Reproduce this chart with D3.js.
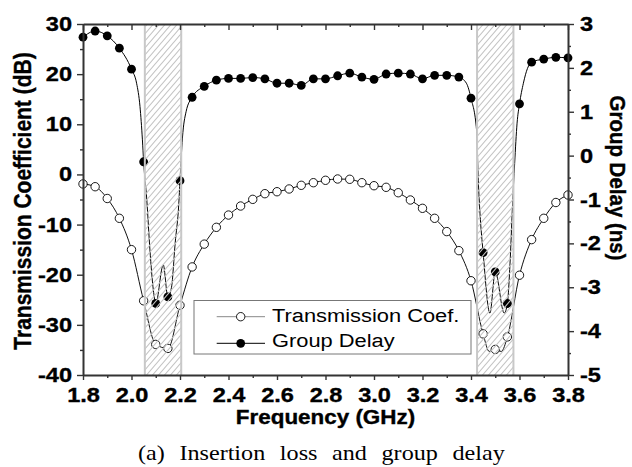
<!DOCTYPE html>
<html><head><meta charset="utf-8">
<script src="https://cdn.jsdelivr.net/npm/d3@7"></script>
<style>body{margin:0;background:#fff}svg{display:block}</style>
</head><body>
<svg id="c" width="632" height="467"></svg>
<script>
// ---------- data ----------
const freq = [1.80,1.85,1.90,1.95,2.00,2.05,2.10,2.15,2.20,2.25,2.30,2.35,2.40,2.45,2.50,2.55,2.60,2.65,2.70,2.75,
              2.80,2.85,2.90,2.95,3.00,3.05,3.10,3.15,3.20,3.25,3.30,3.35,3.40,3.45,3.50,3.55,3.60,3.65,3.70,3.75,3.80];
const transCoef = [-1.9,-2.45,-4.8,-8.75,-15.0,-25.2,-33.9,-34.7,-26.1,-18.45,-13.9,-10.55,-8.1,-6.3,-4.97,-3.84,-3.45,-2.9,-2.17,-1.65,
                   -1.17,-0.91,-0.97,-1.65,-2.25,-2.57,-3.65,-5.1,-6.76,-8.75,-11.4,-15.2,-21.2,-31.8,-34.9,-32.4,-20.1,-13.0,-8.75,-5.6,-4.1];
const groupDelay = [2.70,2.84,2.73,2.45,1.97,-0.14,-3.37,-3.22,-0.57,1.33,1.58,1.72,1.76,1.76,1.78,1.75,1.65,1.65,1.60,1.75,
                    1.75,1.82,1.88,1.79,1.74,1.86,1.88,1.86,1.75,1.83,1.83,1.79,1.31,-2.21,-2.65,-3.37,1.18,2.13,2.20,2.24,2.23];
// extra points of the measured traces (between markers)
const transTraceF = [3.475,3.525];
const transTraceV = [-35.3,-35.3];
const gdTraceF = [2.021,2.035,2.045,2.063,2.076,2.09,2.131,2.165,2.18,2.195,2.21,2.225,
                  3.381,3.423,3.43,3.437,3.478,3.537,3.561,3.571,3.58,3.59,3.616,3.633];
const gdTraceV = [1.65,1.12,0.36,-1.0,-2.15,-3.06,-2.49,-3.0,-2.0,-1.1,0.4,1.0,
                  1.65,0.58,-0.56,-1.31,-3.59,-3.59,-2.45,-1.16,-0.18,0.74,1.65,1.99];
const bands = [[2.055,2.205],[3.425,3.575]];
const xTicks = [1.8,2.0,2.2,2.4,2.6,2.8,3.0,3.2,3.4,3.6,3.8];
const xMinor = [1.9,2.1,2.3,2.5,2.7,2.9,3.1,3.3,3.5,3.7];
const yLTicks = [-40,-30,-20,-10,0,10,20,30];
const yLMinor = [-35,-25,-15,-5,5,15,25];
const yRTicks = [-5,-4,-3,-2,-1,0,1,2,3];
const yRMinor = [-4.5,-3.5,-2.5,-1.5,-0.5,0.5,1.5,2.5];
const legendLabels = ["Transmission Coef.","Group Delay"];

// ---------- layout ----------
const SX = 1.15;
const L = 83, R = 568, T = 24, B = 375;
const x = d3.scaleLinear([1.8,3.8],[L,R]);
const yL = d3.scaleLinear([-40,30],[B,T]);
const yR = d3.scaleLinear([-5,3],[B,T]);
const sans = "'Liberation Sans', Arial, sans-serif";
const svg = d3.select('#c');

const defs = svg.append('defs');
const pat = defs.append('pattern').attr('id','hatch').attr('patternUnits','userSpaceOnUse')
  .attr('width',6).attr('height',7);
pat.append('path').attr('d','M-0.6,7.7L6.6,-0.7M5.2,8.0L6.8,6.1M-0.8,0.9L0.8,-0.9')
  .attr('stroke','#c4c4c4').attr('stroke-width',1.1).attr('fill','none');

function merge(fA, vA, fB, vB){
  const pts = fA.map((f,i)=>[f,vA[i]]).concat(fB.map((f,i)=>[f,vB[i]]));
  return pts.sort((a,b)=>a[0]-b[0]);
}
const transTrace = merge(freq, transCoef, transTraceF, transTraceV);
const gdTrace = merge(freq, groupDelay, gdTraceF, gdTraceV);

// traces
svg.append('path').datum(transTrace)
  .attr('d', d3.line().x(d=>x(d[0])).y(d=>yL(d[1])).curve(d3.curveMonotoneX))
  .attr('fill','none').attr('stroke','#111').attr('stroke-width',1);
svg.append('path').datum(gdTrace)
  .attr('d', d3.line().x(d=>x(d[0])).y(d=>yR(d[1])).curve(d3.curveMonotoneX))
  .attr('fill','none').attr('stroke','#000').attr('stroke-width',1);

// markers
svg.append('g').selectAll('circle').data(freq).join('circle')
  .attr('cx',(d)=>x(d)).attr('cy',(d,i)=>yL(transCoef[i])).attr('r',4.2)
  .attr('fill','#fff').attr('stroke','#000').attr('stroke-width',0.9);
svg.append('g').selectAll('circle').data(freq).join('circle')
  .attr('cx',(d)=>x(d)).attr('cy',(d,i)=>yR(groupDelay[i])).attr('r',4.4)
  .attr('fill','#000');

// hatched bands (on top of traces)
const bg = svg.append('g');
bg.selectAll('rect').data(bands).join('rect')
  .attr('x',d=>x(d[0])).attr('y',T).attr('width',d=>x(d[1])-x(d[0])).attr('height',B-T)
  .attr('fill','url(#hatch)');
bands.forEach(b=>{
  b.forEach(f=>{
    bg.append('line').attr('x1',x(f)).attr('x2',x(f)).attr('y1',T).attr('y2',B)
      .attr('stroke','#c8c8c8').attr('stroke-width',2);
  });
});

// ---------- axes ----------
function styleAxis(g){
  g.select('.domain').attr('stroke','#333').attr('stroke-width',2);
  g.selectAll('.tick line').attr('stroke','#333').attr('stroke-width',1.4);
  g.attr('font-family',sans).attr('font-size',20.5).attr('font-weight','bold');
  g.selectAll('text').attr('fill','#000').attr('stroke','#000').attr('stroke-width',0.35);
}
const fmtInt = d => String(d);
// bottom
const gB = svg.append('g').attr('transform',`translate(0,${B})`)
  .call(d3.axisBottom(x).tickValues(xTicks).tickSize(5).tickSizeOuter(0).tickPadding(7).tickFormat(d=>d.toFixed(1)));
styleAxis(gB);
gB.selectAll('text').attr('transform',`scale(${SX},1)`);
const gBm = svg.append('g').attr('transform',`translate(0,${B})`)
  .call(d3.axisBottom(x).tickValues(xMinor).tickSize(3).tickSizeOuter(0).tickFormat(''));
styleAxis(gBm); gBm.select('.domain').remove();
// top (ticks inward)
const gT = svg.append('g').attr('transform',`translate(0,${T})`)
  .call(d3.axisBottom(x).tickValues(xTicks).tickSize(6).tickSizeOuter(0).tickFormat(''));
styleAxis(gT);
const gTm = svg.append('g').attr('transform',`translate(0,${T})`)
  .call(d3.axisBottom(x).tickValues(xMinor).tickSize(3).tickSizeOuter(0).tickFormat(''));
styleAxis(gTm); gTm.select('.domain').remove();
// left
const gL = svg.append('g').attr('transform',`translate(${L},0)`)
  .call(d3.axisLeft(yL).tickValues(yLTicks).tickSize(6).tickSizeOuter(0).tickFormat(fmtInt));
styleAxis(gL);
gL.selectAll('text').attr('x',-11/SX).attr('transform',`scale(${SX},1)`);
const gLm = svg.append('g').attr('transform',`translate(${L},0)`)
  .call(d3.axisLeft(yL).tickValues(yLMinor).tickSize(3).tickSizeOuter(0).tickFormat(''));
styleAxis(gLm); gLm.select('.domain').remove();
// right
const gR = svg.append('g').attr('transform',`translate(${R},0)`)
  .call(d3.axisRight(yR).tickValues(yRTicks).tickSize(6).tickSizeOuter(0).tickFormat(fmtInt));
styleAxis(gR);
gR.selectAll('text').attr('x',12/SX).attr('transform',`scale(${SX},1)`);
const gRm = svg.append('g').attr('transform',`translate(${R},0)`)
  .call(d3.axisRight(yR).tickValues(yRMinor).tickSize(3).tickSizeOuter(0).tickFormat(''));
styleAxis(gRm); gRm.select('.domain').remove();

// axis titles
function boldTitle(sel){
  return sel.attr('text-anchor','middle').attr('font-family',sans).attr('font-weight','bold')
    .attr('stroke','#000').attr('stroke-width',0.35);
}
boldTitle(svg.append('text').text('Frequency (GHz)')
  .attr('transform',`translate(${(L+R)/2},424) scale(${SX},1)`).attr('font-size',19.5));
boldTitle(svg.append('text').text('Transmission Coefficient (dB)')
  .attr('transform',`translate(31,201) scale(${SX},1) rotate(-90)`).attr('font-size',21));
boldTitle(svg.append('text').text('Group Delay (ns)')
  .attr('transform',`translate(610,178) scale(1.12,1) rotate(90)`).attr('font-size',20.5));

// caption
svg.append('text').text('(a) Insertion loss and group delay')
  .attr('transform',`translate(138,460) scale(${SX},1)`)
  .attr('font-family',"'Liberation Serif','Times New Roman',serif").attr('font-size',21)
  .attr('word-spacing',7.5);

// ---------- legend ----------
const lg = svg.append('g');
lg.append('rect').attr('x',194).attr('y',300.5).attr('width',277).attr('height',53.5)
  .attr('fill','#fff').attr('stroke','#777').attr('stroke-width',1);
const rows = [316.7, 343.3];
legendLabels.forEach((lab,i)=>{
  const yy = rows[i];
  lg.append('line').attr('x1',216.7).attr('x2',265).attr('y1',yy).attr('y2',yy)
    .attr('stroke', i===0 ? '#888' : '#000').attr('stroke-width',1);
  const c = lg.append('circle').attr('cx',240.7).attr('cy',yy);
  if(i===0) c.attr('r',4.2).attr('fill','#fff').attr('stroke','#000').attr('stroke-width',0.9);
  else c.attr('r',4.4).attr('fill','#000');
  lg.append('text').text(lab)
    .attr('transform',`translate(272,${i===0?321.7:346.7}) scale(${SX},1)`)
    .attr('font-family',sans).attr('font-size',19);
});
</script>
</body></html>
